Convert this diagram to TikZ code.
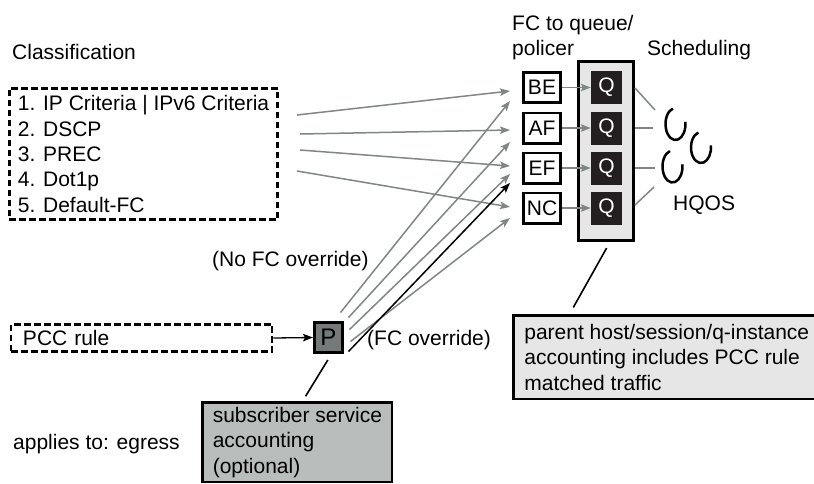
\documentclass[tikz,border=0pt]{standalone}
\usepackage{fontspec}
\setmainfont{Liberation Sans}
\usetikzlibrary{arrows.meta,calc}
\definecolor{arrowgray}{RGB}{128,134,133}
\definecolor{qblack}{RGB}{35,31,32}
\definecolor{lightbox}{RGB}{230,230,230}
\definecolor{subgray}{RGB}{185,189,188}
\definecolor{pgray}{RGB}{118,121,121}
\begin{document}
\begin{tikzpicture}[x=1pt,y=-1pt,
  font=\fontsize{21}{25.3}\selectfont,
  lbl/.style={inner sep=0pt, anchor=base west},
  fcbox/.style={draw, line width=2.8pt, minimum width=37.2pt, minimum height=30.2pt, inner sep=0pt},
  qbox/.style={fill=qblack, text=white, minimum width=31pt, minimum height=33pt, inner sep=0pt},
  dashbox/.style={draw, line width=2.6pt, dash pattern=on 6.5pt off 3.5pt},
  notebox/.style={draw, line width=2.8pt, inner sep=0pt, align=left},
  ghead/.style={-{Stealth[length=10pt,width=7.5pt,inset=2pt]}},
  garrow/.style={draw=arrowgray, line width=1.5pt, ghead, arrowgray},
  barrow/.style={draw=black, line width=1.5pt, ghead},
  glink/.style={draw=arrowgray, line width=1.5pt},
  loopline/.style={draw=black, line width=2.5pt}
]
\useasboundingbox (0,0) rectangle (814,483);

% titles
\node[lbl] (classt) at (12,59) {Classification};
\node[lbl] (fct1) at (512,30) {FC to queue/};
\node[lbl] (fct2) at (512,55) {policer};
\node[lbl] (schedt) at (647,55) {Scheduling};
\node[lbl] (hqos) at (673,210) {HQOS};
\node[lbl] (nofc) at (212,266) {(No FC override)};
\node[lbl] (fcov) at (367,345) {(FC override)};
\node[lbl] (applies) at (13,449) {applies to: egress};

% classification list
\node[dashbox, minimum width=268.5pt, minimum height=131.5pt, align=left, inner sep=0pt]
  (list) at (143.5,154) {1. IP Criteria | IPv6 Criteria\\2. DSCP\\3. PREC\\4. Dot1p\\5. Default-FC};

% queue column
\node[draw, fill=lightbox, line width=2.8pt, minimum width=55.2pt, minimum height=179.2pt, inner sep=0pt]
  (qrect) at (606,151) {};

\foreach \n/\t/\y in {be/BE/87.5, af/AF/128, ef/EF/168, nc/NC/208}{
  \node[fcbox] (\n) at (542,\y) {\t};
  \node[qbox] (q\n) at (606.5,\y) {Q};
  \draw[garrow] (\n.east) -- (q\n.west);
}

% list to FC arrows
\coordinate (l1) at (297,115);
\coordinate (l2) at (300,134);
\coordinate (l3) at (300,150);
\coordinate (l4) at (297,171);
\draw[garrow] (l1) -- ($(be.west)+(-12,3.5)$);
\draw[garrow] (l2) -- ($(af.west)+(-12,2)$);
\draw[garrow] (l3) -- ($(ef.west)+(-12,-2)$);
\draw[garrow] (l4) -- ($(nc.west)+(-12,-1)$);

% PCC rule and P
\node[dashbox, minimum width=260.5pt, minimum height=27.5pt, text width=237pt, align=left, inner xsep=12pt, inner ysep=0pt]
  (pcc) at (141.5,338) {PCC rule};
\node[draw, fill=pgray, line width=2.8pt, minimum width=28.2pt, minimum height=30.2pt, inner sep=0pt,
  font=\fontsize{24}{24}\selectfont] (p) at (328.5,337.5) {P};
\draw[line width=1.3pt, -{Stealth[length=10pt,width=7.5pt,inset=2pt]}] (pcc.east) -- (p.west);

% fan from P
\draw[garrow] ($(p.center)+(12,-25)$) -- ($(be.west)+(-12,13.5)$);
\draw[garrow] ($(p.center)+(20,-20)$) -- ($(af.west)+(-12,14)$);
\draw[garrow] ($(p.center)+(21,-8)$) -- ($(ef.west)+(-12,6)$);
\draw[garrow] ($(p.center)+(22,4)$) -- ($(nc.west)+(-12,10)$);
\draw[barrow] ($(p.center)+(20,14)$) -- ($(ef.west)+(-12,15)$);

% subscriber box
\node[notebox, fill=subgray, minimum width=189.2pt, minimum height=79.2pt, anchor=north west]
  (sub) at (201.4,401.4) {subscriber service\\accounting\\(optional)};
\draw[line width=1.6pt, shorten <=7pt, shorten >=6pt] ($(p.south)+(3,0)$) -- ($(sub.north west)+(101,0)$);

% parent box
\node[notebox, fill=lightbox, minimum width=306pt, minimum height=83.2pt, anchor=north west]
  (parent) at (512.4,314.4) {parent host/session/q-instance\\accounting includes PCC rule\\matched traffic};
\draw[line width=1.6pt, shorten <=7pt, shorten >=8pt] ($(qrect.south)+(4,0)$) -- ($(parent.north west)+(57,0)$);

% scheduling links and loops
\coordinate (s1) at (655,110);
\coordinate (s2) at (653,128);
\coordinate (s3) at (655,168);
\coordinate (s4) at (654,187);
\draw[glink] ($(qrect.east)+(0,-63)$) -- (s1);
\draw[glink] ($(qrect.east)+(0,-23)$) -- (s2);
\draw[glink] ($(qrect.east)+(0,17)$) -- (s3);
\draw[glink] ($(qrect.east)+(0,54)$) -- (s4);

\draw[loopline] ([shift={(-105:10 and 16)}]675.5,124) arc[start angle=-105,end angle=-368,x radius=10,y radius=16];
\draw[loopline] ([shift={(-105:10 and 15.5)}]701,147.5) arc[start angle=-105,end angle=-368,x radius=10,y radius=15.5];
\draw[loopline] ([shift={(-105:10 and 16)}]672.5,166.5) arc[start angle=-105,end angle=-368,x radius=10,y radius=16];
\end{tikzpicture}
\end{document}
